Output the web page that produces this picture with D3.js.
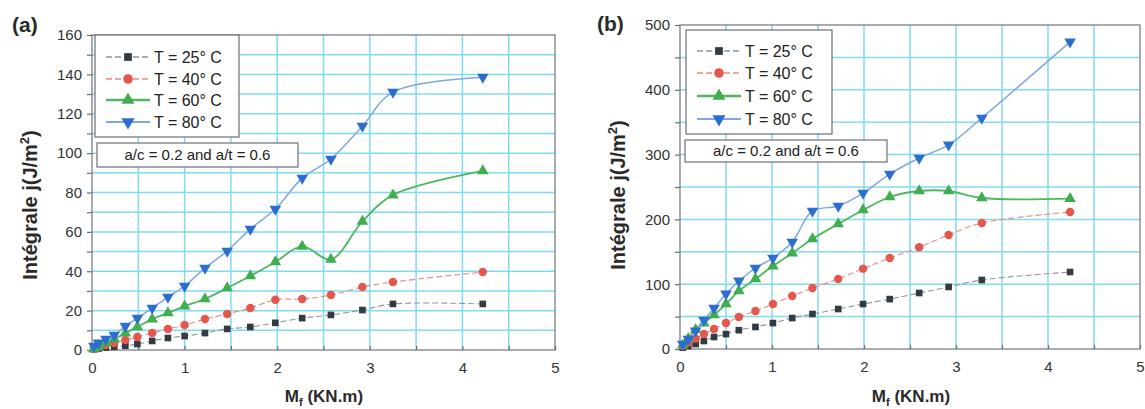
<!DOCTYPE html>
<html>
<head>
<meta charset="utf-8">
<script src="https://cdn.jsdelivr.net/npm/d3@7"></script>
<style>
  body { margin: 0; background: #fff; }
  svg { display: block; font-family: "Liberation Sans", Arial, sans-serif; }
</style>
</head>
<body>
<svg id="chart" width="1145" height="409"></svg>
<script>
// ---- data -------------------------------------------------------------
const seriesNames = ["T = 25° C", "T = 40° C", "T = 60° C", "T = 80° C"];
const xTicks = [0, 1, 2, 3, 4, 5];

// panel (a): moment M_f (KN.m) and J-integral (J/m²)
const xA   = [0.02, 0.07, 0.15, 0.24, 0.36, 0.49, 0.65, 0.82, 1.0, 1.22, 1.46, 1.71, 1.98, 2.27, 2.58, 2.92, 3.25, 4.22];
const a25  = [0.3, 0.7, 1.2, 1.6, 2.2, 3.0, 4.6, 6.1, 7.1, 8.6, 10.7, 11.7, 13.8, 16.2, 17.8, 20.3, 23.4, 23.4];
const a40  = [0.5, 1.5, 2.5, 3.6, 5.1, 6.6, 8.6, 10.7, 12.7, 15.7, 18.3, 21.3, 25.5, 25.9, 27.9, 32.0, 34.5, 39.6];
const a60  = [0.5, 1.5, 3.5, 5.5, 8.6, 11.7, 15.7, 18.8, 22.3, 25.9, 31.5, 37.6, 44.7, 52.6, 46.0, 65.3, 78.7, 91.0];
const a80  = [2.0, 3.6, 5.6, 7.6, 12.2, 16.2, 21.3, 26.9, 32.5, 41.6, 50.3, 61.4, 71.6, 87.3, 97.0, 113.7, 131.0, 138.6];
const yTicksA = [0, 20, 40, 60, 80, 100, 120, 140, 160];

// panel (b)
const xB   = [0.03, 0.09, 0.17, 0.26, 0.37, 0.50, 0.64, 0.82, 1.01, 1.22, 1.44, 1.72, 1.99, 2.28, 2.60, 2.92, 3.28, 4.24];
const b25  = [2.0, 4.5, 7.7, 12.3, 18.5, 23.0, 29.0, 34.0, 40.0, 47.8, 54.0, 61.7, 69.4, 77.0, 86.4, 95.7, 106.5, 118.8];
const b40  = [4.6, 10.0, 16.0, 23.0, 30.9, 40.0, 49.4, 58.6, 69.4, 81.8, 94.0, 108.0, 124.0, 140.4, 157.0, 176.0, 194.4, 211.4];
const b60  = [6.0, 16.0, 30.0, 40.0, 52.5, 69.4, 89.5, 108.0, 128.0, 148.0, 169.8, 193.0, 214.5, 234.6, 243.8, 243.8, 233.0, 232.0];
const b80  = [7.7, 15.4, 28.0, 44.8, 63.0, 85.0, 105.0, 125.0, 140.4, 165.0, 213.0, 220.7, 240.7, 270.0, 294.8, 315.0, 356.5, 474.0];
const yTicksB = [0, 100, 200, 300, 400, 500];

const noteText = "a/c = 0.2 and a/t = 0.6";

// ---- styles -----------------------------------------------------------
function triangle(pointDown) {
  return {
    draw(ctx, size) {
      const s = Math.sqrt(size * 4 / Math.sqrt(3)); // side length
      const r = s / Math.sqrt(3);
      const k = pointDown ? -1 : 1;
      ctx.moveTo(-s / 2, k * r / 2);
      ctx.lineTo(s / 2, k * r / 2);
      ctx.lineTo(0, -k * r);
      ctx.closePath();
    }
  };
}
const styles = [
  { fill: "#323a42", line: "#8d949a", dash: "6,3", width: 1.1, symbol: d3.symbolSquare, size: 44 },
  { fill: "#e5564c", line: "#ee8780", dash: "6,3", width: 1.1, symbol: d3.symbolCircle, size: 56 },
  { fill: "#40ad50", line: "#4fb75e", dash: null,  width: 1.8, symbol: triangle(false), size: 58 },
  { fill: "#2c6ed0", line: "#7ea7e3", dash: null,  width: 1.5, symbol: triangle(true),  size: 58 }
];

const svg = d3.select("#chart");

function drawPanel(cfg) {
  const g = svg.append("g");
  const x = d3.scaleLinear().domain([0, 5]).range([cfg.left, cfg.right]);
  const y = d3.scaleLinear().domain([0, cfg.yMax]).range([cfg.bottom, cfg.top]);

  // grid
  const grid = g.append("g").attr("stroke", "#6ad5f0").attr("stroke-width", 1.5).attr("opacity", 0.85);
  grid.selectAll("line.v").data(d3.range(0.5, 5, 0.5)).join("line")
    .attr("x1", d => x(d)).attr("x2", d => x(d))
    .attr("y1", cfg.top).attr("y2", cfg.bottom);
  grid.selectAll("line.h").data(d3.range(cfg.gridStep, cfg.yMax, cfg.gridStep)).join("line")
    .attr("x1", cfg.left).attr("x2", cfg.right)
    .attr("y1", d => y(d)).attr("y2", d => y(d));

  // frame
  g.append("rect")
    .attr("x", cfg.left).attr("y", cfg.top)
    .attr("width", cfg.right - cfg.left).attr("height", cfg.bottom - cfg.top)
    .attr("fill", "none").attr("stroke", "#7a7f84").attr("stroke-width", 1.3);

  // axes
  const majorY = new Set(cfg.yTicks);
  const yAxis = d3.axisLeft(y)
    .tickValues(d3.range(0, cfg.yMax + 0.001, cfg.gridStep))
    .tickSize(5).tickPadding(5)
    .tickFormat(d => majorY.has(d) ? d : "");
  const ya = g.append("g").attr("transform", `translate(${cfg.left},0)`).call(yAxis);
  ya.select(".domain").remove();

  const majorX = new Set(xTicks);
  const xAxis = d3.axisBottom(x)
    .tickValues(d3.range(0, 5.001, 0.5))
    .tickSize(-4).tickPadding(12)
    .tickFormat(d => majorX.has(d) ? d : "");
  const xa = g.append("g").attr("transform", `translate(0,${cfg.bottom})`).call(xAxis);
  xa.select(".domain").remove();

  [ya, xa].forEach(a => {
    a.selectAll(".tick line").attr("stroke", "#6a6f74").attr("stroke-width", 1.2);
    a.selectAll(".tick text").attr("fill", "#333").attr("font-size", 15)
      .attr("font-family", "Liberation Sans, Arial, sans-serif");
  });

  // series
  const line = d3.line()
    .x(d => x(d[0])).y(d => y(d[1]))
    .curve(d3.curveCatmullRom.alpha(0.5));
  cfg.series.forEach((vals, i) => {
    const st = styles[i];
    const pts = cfg.xs.map((xv, k) => [xv, vals[k]]);
    g.append("path").datum(pts)
      .attr("d", line).attr("fill", "none")
      .attr("stroke", st.line).attr("stroke-width", st.width)
      .attr("stroke-dasharray", st.dash);
    g.append("g").selectAll("path").data(pts).join("path")
      .attr("transform", d => `translate(${x(d[0])},${y(d[1])})`)
      .attr("d", d3.symbol(st.symbol, st.size))
      .attr("fill", st.fill);
  });

  // legend
  const lg = g.append("g");
  lg.append("rect")
    .attr("x", cfg.legend.x).attr("y", cfg.legend.y)
    .attr("width", cfg.legend.w).attr("height", cfg.legend.h)
    .attr("fill", "#fff").attr("stroke", "#6b6f73").attr("stroke-width", 1.2);
  seriesNames.forEach((name, i) => {
    const st = styles[i];
    const ly = cfg.legend.rows[i];
    const lx = cfg.legend.x;
    lg.append("line")
      .attr("x1", lx + 11).attr("x2", lx + 55)
      .attr("y1", ly).attr("y2", ly)
      .attr("stroke", st.line).attr("stroke-width", i === 2 ? 2.6 : st.width + 0.3)
      .attr("stroke-dasharray", st.dash);
    lg.append("path")
      .attr("transform", `translate(${lx + 33},${ly})`)
      .attr("d", d3.symbol(st.symbol, st.size + 16))
      .attr("fill", st.fill);
    lg.append("text")
      .attr("x", lx + 59).attr("y", ly).attr("dy", "0.36em")
      .attr("font-size", 16).attr("fill", "#222")
      .text(name);
  });

  // parameter note
  g.append("rect")
    .attr("x", cfg.note.x).attr("y", cfg.note.y)
    .attr("width", cfg.note.w).attr("height", cfg.note.h)
    .attr("fill", "#fff").attr("stroke", "#6b6f73").attr("stroke-width", 1.2);
  g.append("text")
    .attr("x", cfg.note.x + cfg.note.w / 2).attr("y", cfg.note.y + cfg.note.h / 2)
    .attr("dy", "0.36em").attr("text-anchor", "middle")
    .attr("font-size", 15).attr("fill", "#222")
    .text(noteText);

  // panel tag
  g.append("text")
    .attr("x", cfg.tag.x).attr("y", cfg.tag.y)
    .attr("font-size", 21).attr("font-weight", "bold").attr("fill", "#2a2a2a")
    .text(cfg.tag.text);

  // y title
  const yt = g.append("text")
    .attr("transform", `translate(${cfg.yTitle.x},${cfg.yTitle.y}) rotate(-90)`)
    .attr("text-anchor", "middle")
    .attr("font-size", 20).attr("font-weight", "bold").attr("fill", "#2a2a2a");
  yt.append("tspan").text("Intégrale j(J/m");
  yt.append("tspan").attr("font-size", 13).attr("dy", -8).text("2");
  yt.append("tspan").attr("dy", 8).text(")");

  // x title
  const xt = g.append("text")
    .attr("x", cfg.xTitle.x).attr("y", cfg.xTitle.y)
    .attr("text-anchor", "middle")
    .attr("font-size", 17).attr("font-weight", "bold").attr("fill", "#2a2a2a");
  xt.append("tspan").text("M");
  xt.append("tspan").attr("font-size", 11).attr("dy", 4).text("f");
  xt.append("tspan").attr("dy", -4).text(" (KN.m)");
}

drawPanel({
  left: 92, right: 555, top: 35, bottom: 350,
  yMax: 160, gridStep: 10, yTicks: yTicksA,
  xs: xA, series: [a25, a40, a60, a80],
  legend: { x: 95, y: 35, w: 144, h: 102, rows: [57, 79, 100, 122] },
  note: { x: 97, y: 143, w: 201, h: 24 },
  tag: { x: 12, y: 32, text: "(a)" },
  yTitle: { x: 37, y: 205 },
  xTitle: { x: 324, y: 402 }
});

drawPanel({
  left: 680, right: 1140, top: 25, bottom: 349,
  yMax: 500, gridStep: 50, yTicks: yTicksB,
  xs: xB, series: [b25, b40, b60, b80],
  legend: { x: 686, y: 30, w: 146, h: 104, rows: [51, 73, 96, 119] },
  note: { x: 685, y: 140, w: 202, h: 22 },
  tag: { x: 597, y: 31, text: "(b)" },
  yTitle: { x: 625, y: 195 },
  xTitle: { x: 911, y: 402 }
});
</script>
</body>
</html>
